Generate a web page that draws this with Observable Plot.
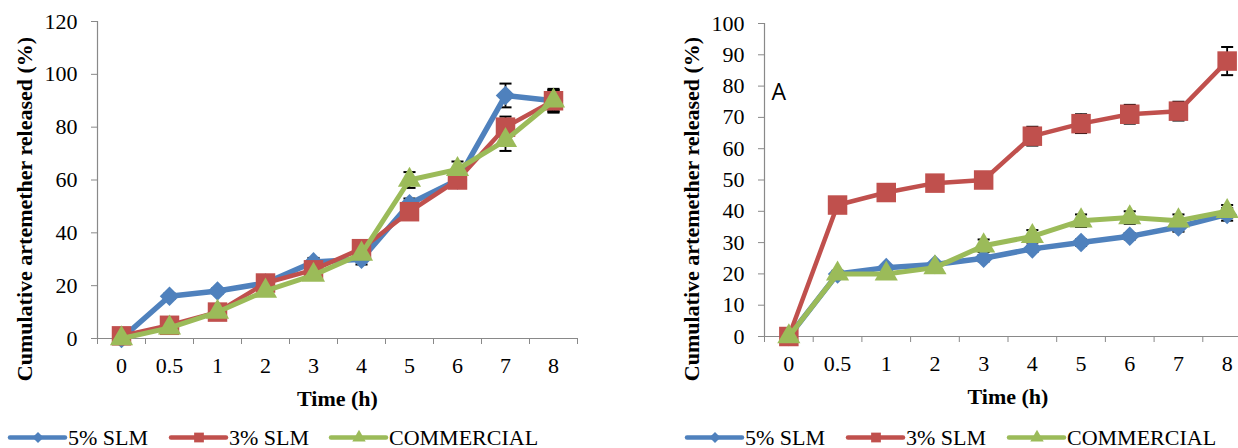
<!DOCTYPE html>
<html><head><meta charset="utf-8">
<script src="https://cdn.jsdelivr.net/npm/d3@7"></script>
<script src="https://cdn.jsdelivr.net/npm/@observablehq/plot@0.6"></script>
<style>
html,body{margin:0;padding:0;background:#fff;overflow:hidden;}
#root{position:relative;width:1238px;height:448px;overflow:hidden;background:#fff;}
.panel{position:absolute;top:0;}
.legend{position:absolute;top:410px;}
</style></head><body><div id="root"></div>
<script>
// ---- data ----
const categories = ["0","0.5","1","2","3","4","5","6","7","8"];
const seriesNames = ["5% SLM","3% SLM","COMMERCIAL"];
const seriesColors = ["#4F81BD","#C0504D","#9BBB59"];
const seriesSymbols = ["diamond2","square","triangle"];
const xTitle = "Time (h)";
const yTitle = "Cumulative artemether released (%)";
const annotationRight = "A";

// left panel
const leftSlm5       = [0, 16, 18, 21, 29, 30, 51, 60, 92, 90];
const leftSlm3       = [1, 5, 10, 21, 26, 34, 48, 60, 80, 90];
const leftCommercial = [0, 4, 10, 18, 24, 32, 60, 64, 75, 90];
const leftErrSlm5       = [0, 1, 1, 1, 1.5, 2, 2, 2, 4.5, 4.5];
const leftErrSlm3       = [0, 1, 1, 1, 1.5, 2, 2, 2, 4, 4];
const leftErrCommercial = [0, 1, 1, 1, 1.5, 1.5, 3, 3, 4, 4];
const leftYTicks = [0, 20, 40, 60, 80, 100, 120];

// right panel
const rightSlm5       = [0, 20, 22, 23, 25, 28, 30, 32, 35, 39];
const rightSlm3       = [0, 42, 46, 49, 50, 64, 68, 71, 72, 88];
const rightCommercial = [0, 20, 20, 22, 29, 32, 37, 38, 37, 40];
const rightErrSlm5       = [0, 0.5, 0.5, 0.5, 1, 1, 1, 1, 1.5, 2];
const rightErrSlm3       = [0, 1, 1, 1, 1, 3, 3, 3, 3, 4.5];
const rightErrCommercial = [0, 1, 1, 1, 2, 2, 2, 2, 2, 2];
const rightYTicks = [0, 10, 20, 30, 40, 50, 60, 70, 80, 90, 100];

// ---- styling ----
const axisGray = "#898989";
const serif = "'Liberation Serif', 'Times New Roman', serif";
const symbolR = [8.8, 11, 8.6];
const lineWidths = [5.5, 4.5, 5];
const capSymbol = {draw(ctx, size) { const w = Math.sqrt(size) * 0.85; ctx.moveTo(-w, 0); ctx.lineTo(w, 0); }};

function makePanel({values, errors, yTicks, yMax, width, marginLeft, marginRight, marginTop, marginBottom, annotation}) {
  const data = [];
  values.forEach((arr, s) => arr.forEach((v, i) => data.push({s, i, v, e: errors[s][i]})));
  const idx = categories.map((_, i) => i);
  const bounds = d3.range(categories.length + 1).map(i => i - 0.5);
  const err = data.filter(d => d.e > 0);
  const marks = [
    Plot.axisY(yTicks, {tickSize: 6, tickPadding: 14, stroke: axisGray, fill: "black", fontSize: 22}),
    Plot.axisX(bounds, {tickSize: 6, tickFormat: () => "", stroke: axisGray}),
    Plot.axisX(idx, {tickSize: 0, tickPadding: 19, tickFormat: i => categories[i], fill: "black", fontSize: 22}),
    Plot.ruleY([0], {stroke: axisGray, strokeWidth: 1.2}),
    Plot.ruleX([-0.5], {stroke: axisGray, strokeWidth: 1.2}),
    Plot.text([xTitle], {frameAnchor: "bottom", lineAnchor: "middle", textAnchor: "middle", dy: 60, fontWeight: "bold", fontSize: 22}),
    Plot.text([yTitle], {frameAnchor: "left", lineAnchor: "middle", textAnchor: "middle", rotate: -90, dx: -73, dy: 29, fontWeight: "bold", fontSize: 22}),
    Plot.ruleX(err, {x: "i", y1: d => d.v - d.e, y2: d => d.v + d.e, stroke: "black", strokeWidth: 1.8}),
    Plot.dot(err, {x: "i", y: d => d.v + d.e, symbol: capSymbol, r: 4, fill: "none", stroke: "black", strokeWidth: 2}),
    Plot.dot(err, {x: "i", y: d => d.v - d.e, symbol: capSymbol, r: 4, fill: "none", stroke: "black", strokeWidth: 2})
  ];
  seriesNames.forEach((name, s) => {
    const sd = data.filter(d => d.s === s);
    marks.push(Plot.line(sd, {x: "i", y: "v", stroke: seriesColors[s], strokeWidth: lineWidths[s]}));
    marks.push(Plot.dot(sd, {x: "i", y: "v", symbol: seriesSymbols[s], r: symbolR[s], fill: seriesColors[s], stroke: "none"}));
  });
  if (annotation) {
    marks.push(Plot.text([annotation], {frameAnchor: "top-left", lineAnchor: "middle", textAnchor: "start", dx: 7, dy: 69, fontSize: 23, fontFamily: "'Open Sans', 'Liberation Sans', sans-serif"}));
  }
  return Plot.plot({
    width, height: 410, marginLeft, marginRight, marginTop, marginBottom,
    x: {type: "linear", domain: [-0.5, categories.length - 0.5], label: null},
    y: {domain: [0, yMax], label: null},
    style: {fontFamily: serif, fontSize: "22px", background: "transparent", overflow: "visible", color: "black"},
    marks
  });
}

function makeLegend(positions) {
  const svg = d3.create("svg").attr("width", 620).attr("height", 38).style("overflow", "visible");
  const legendR = [5, 5.5, 5];
  seriesNames.forEach((name, s) => {
    const g = svg.append("g").attr("transform", `translate(${positions[s]},27.5)`);
    g.append("line").attr("x1", 0).attr("x2", 55).attr("stroke", seriesColors[s]).attr("stroke-width", 4.5).attr("stroke-linecap", "round");
    const sym = {diamond2: d3.symbolDiamond2, square: d3.symbolSquare, triangle: d3.symbolTriangle}[seriesSymbols[s]];
    const r = legendR[s];
    g.append("path").attr("transform", "translate(28,0)").attr("d", d3.symbol(sym, Math.PI * r * r)()).attr("fill", seriesColors[s]);
    g.append("text").attr("x", 58).attr("y", 7).attr("font-family", serif).attr("font-size", 22).text(name);
  });
  return svg.node();
}

const root = document.getElementById("root");
const left = makePanel({
  values: [leftSlm5, leftSlm3, leftCommercial],
  errors: [leftErrSlm5, leftErrSlm3, leftErrCommercial],
  yTicks: leftYTicks, yMax: 120,
  width: 600, marginLeft: 97, marginRight: 23, marginTop: 21, marginBottom: 72
});
left.classList.add("panel"); left.style.left = "0px";
root.appendChild(left);

const right = makePanel({
  values: [rightSlm5, rightSlm3, rightCommercial],
  errors: [rightErrSlm5, rightErrSlm3, rightErrCommercial],
  yTicks: rightYTicks, yMax: 100,
  width: 640, marginLeft: 144, marginRight: 9, marginTop: 23, marginBottom: 74,
  annotation: annotationRight
});
right.classList.add("panel"); right.style.left = "620px";
root.appendChild(right);

const lg1 = makeLegend([10, 171, 331]);
lg1.classList.add("legend"); lg1.style.left = "0px";
root.appendChild(lg1);
const lg2 = makeLegend([67, 228, 389]);
lg2.classList.add("legend"); lg2.style.left = "620px";
root.appendChild(lg2);
</script></body></html>
